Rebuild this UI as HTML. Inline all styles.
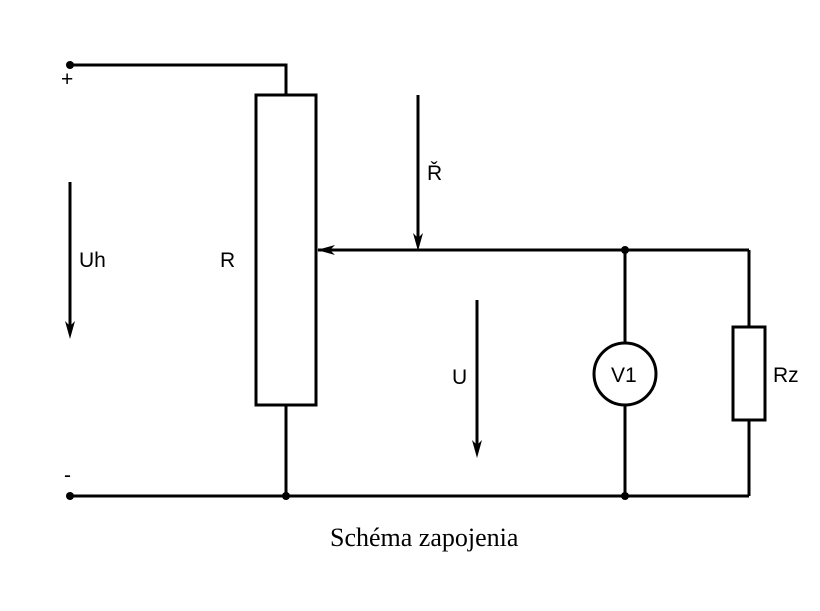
<!DOCTYPE html>
<html><head><meta charset="utf-8"><style>
html,body{margin:0;padding:0;background:#fff;}
svg{display:block;}
.s{font-family:"Liberation Sans",sans-serif;font-size:21px;fill:#000;}
</style></head><body>
<svg width="820" height="611" viewBox="0 0 820 611" xmlns="http://www.w3.org/2000/svg">
<g stroke="#000" stroke-width="3" fill="none">
  <polyline points="70,65 286,65 286,95"/>
  <rect x="256" y="95" width="60" height="310"/>
  <line x1="286" y1="405" x2="286" y2="496"/>
  <line x1="70" y1="496" x2="749" y2="496"/>
  <line x1="318" y1="250" x2="749" y2="250"/>
  <line x1="749" y1="250" x2="749" y2="327"/>
  <rect x="733" y="327" width="32" height="93"/>
  <line x1="749" y1="420" x2="749" y2="496"/>
  <line x1="625" y1="250" x2="625" y2="343"/>
  <circle cx="625" cy="374" r="31"/>
  <line x1="625" y1="405" x2="625" y2="496"/>
  <line x1="70" y1="182" x2="70" y2="330"/>
  <line x1="418" y1="95" x2="418" y2="242"/>
  <line x1="477" y1="300" x2="477" y2="450"/>
</g>
<g fill="#000">
  <circle cx="70" cy="65" r="4"/>
  <circle cx="70" cy="496" r="4"/>
  <circle cx="286" cy="496" r="4"/>
  <circle cx="625" cy="250" r="4"/>
  <circle cx="625" cy="496" r="4"/>
  <polygon points="70,339 65,321 70,326 75,321"/>
  <polygon points="418,251 413,233 418,238 423,233"/>
  <polygon points="477,458 472,440 477,445 482,440"/>
  <polygon points="317,250 335,245 330,250 335,255"/>
</g>
<text class="s" x="61" y="86" font-size="22">+</text>
<text class="s" x="64" y="482" font-size="22">-</text>
<text class="s" x="79" y="267">Uh</text>
<text class="s" x="220" y="267">R</text>
<text class="s" x="427" y="180">Ř</text>
<text class="s" x="452" y="384">U</text>
<text class="s" x="611" y="382">V1</text>
<text class="s" x="773" y="382">Rz</text>
<text x="330" y="546" font-family="'Liberation Serif',serif" font-size="26" fill="#000">Schéma zapojenia</text>
</svg>
</body></html>
